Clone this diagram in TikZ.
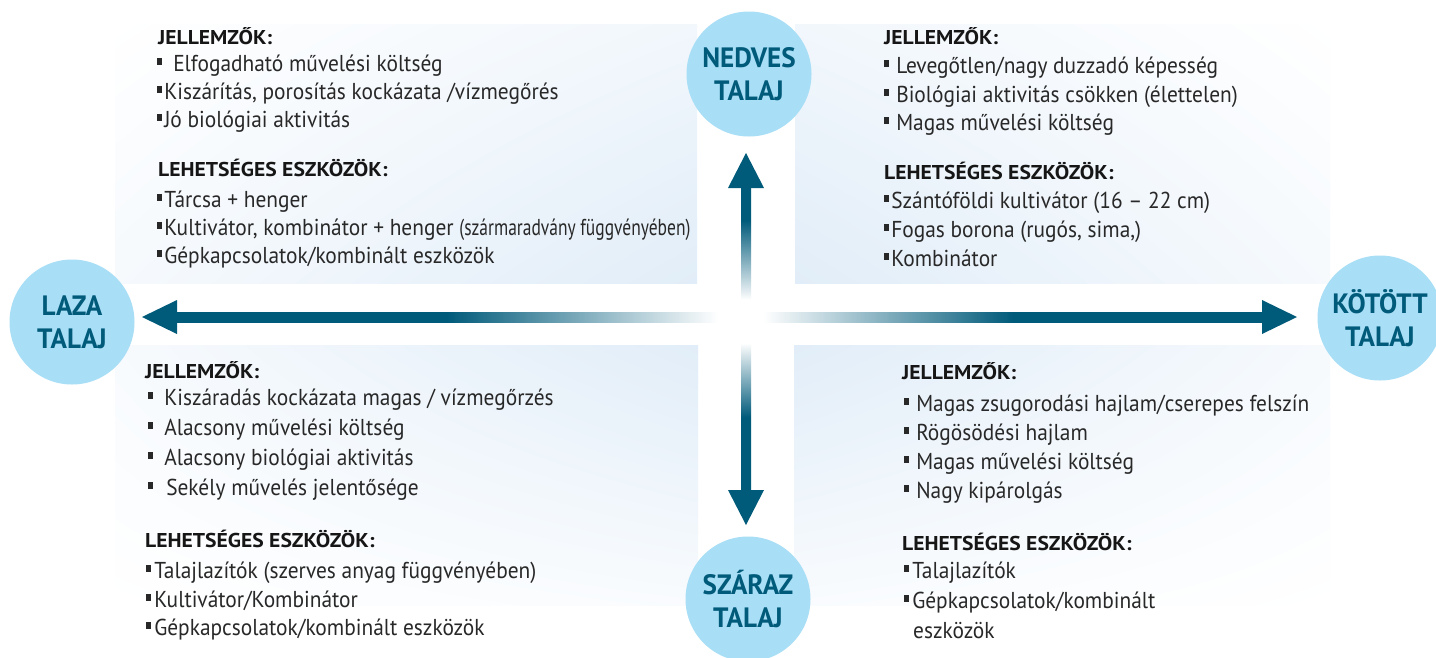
\documentclass[tikz,border=0pt]{standalone}
\usepackage{fontspec}
\usetikzlibrary{calc,shadings}
\setmainfont{PT Sans}[FakeStretch=0.93]
\newfontfamily\hdfont{PT Sans}[FakeStretch=1.08]
\newfontfamily\circfont{PT Sans}[FakeStretch=0.97]
\newfontfamily\condfont{PT Sans}[FakeStretch=0.76]
\definecolor{arrowc}{RGB}{0,90,122}
\definecolor{circc}{RGB}{168,222,246}
\definecolor{bgc}{RGB}{225,237,248}
\definecolor{txtc}{RGB}{40,40,40}
\definecolor{hdc}{RGB}{22,22,22}
\newcommand\bul{\rule[0.27em]{0.22em}{0.3em}}
\pgfdeclarehorizontalshading{shaftL}{100bp}{color(0bp)=(arrowc); color(25bp)=(arrowc); color(50bp)=(arrowc); color(75bp)=(white); color(100bp)=(white)}
\pgfdeclarehorizontalshading{shaftR}{100bp}{color(0bp)=(white); color(25bp)=(white); color(50bp)=(arrowc); color(75bp)=(arrowc); color(100bp)=(arrowc)}
\pgfdeclareverticalshading{shaftT}{100bp}{color(0bp)=(white); color(25bp)=(white); color(60bp)=(arrowc); color(75bp)=(arrowc); color(100bp)=(arrowc)}
\pgfdeclareverticalshading{shaftB}{100bp}{color(0bp)=(arrowc); color(25bp)=(arrowc); color(50bp)=(arrowc); color(75bp)=(white); color(100bp)=(white)}
\tikzset{
  txt/.style={inner sep=0pt, anchor=base west, text=txtc, font=\fontsize{23}{26}\selectfont},
  hdr/.style={inner sep=0pt, anchor=base west, text=hdc, font=\hdfont\bfseries\fontsize{20}{22}\selectfont},
  soil/.style={circle, fill=circc, minimum size=125pt, inner sep=0pt, align=center, text=arrowc, font=\circfont\bfseries\fontsize{28}{33}\selectfont},
  head/.style={fill=arrowc}
}
\begin{document}
\begin{tikzpicture}[x=1pt,y=-1pt]
\useasboundingbox (0,0) rectangle (1436,657);
\fill[white] (0,0) rectangle (1436,657);
% quadrant backgrounds
\shade[upper left=white, upper right=bgc!45, lower left=bgc!30, lower right=bgc] (115,24) rectangle (697,283);
\shade[upper left=bgc!45, upper right=white, lower left=bgc, lower right=bgc!30] (795,24) rectangle (1330,283);
\shade[upper left=bgc!25, upper right=bgc, lower left=white, lower right=bgc!20] (115,345) rectangle (698,605);
\shade[upper left=bgc, upper right=bgc!28, lower left=bgc!20, lower right=white] (794,345) rectangle (1330,605);
% coordinates
\coordinate (c) at (746,317);
\coordinate (tipN) at (746,153);
\coordinate (tipS) at (746,525);
\coordinate (tipW) at (142,317);
\coordinate (tipE) at (1297,317);
% shafts
\shade[shading=shaftT] (741,186) rectangle (751,300);
\shade[shading=shaftB] (741,343) rectangle (751,492);
\shade[shading=shaftL] (175,312) rectangle (718,322);
\shade[shading=shaftR] (763,312) rectangle (1264,322);
% arrowheads
\fill[head] (tipN) -- ($(tipN)+(-18,35)$) -- ($(tipN)+(18,35)$) -- cycle;
\fill[head] (tipS) -- ($(tipS)+(-18,-35)$) -- ($(tipS)+(18,-35)$) -- cycle;
\fill[head] (tipW) -- ($(tipW)+(35,-17)$) -- ($(tipW)+(35,17)$) -- cycle;
\fill[head] (tipE) -- ($(tipE)+(-35,-17)$) -- ($(tipE)+(-35,17)$) -- cycle;
% circles
\node[soil] (nedves) at (749,74) {NEDVES\\TALAJ};
\node[soil] (laza) at (72,322) {LAZA\\TALAJ};
\node[soil] (kotott) at (1380,318) {KÖTÖTT\\TALAJ};
\node[soil] (szaraz) at (748,599) {SZÁRAZ\\TALAJ};
% top-left
\node[hdr] (tlh1) at (158,44) {JELLEMZŐK:};
\node[txt] (tl1) at (157,71) {\bul\hspace{11pt}Elfogadható művelési költség};
\node[txt] (tl2) at (157,99) {\bul\hspace{2pt}Kiszárítás, porosítás kockázata /vízmegőrés};
\node[txt] (tl3) at (157,127) {\bul\hspace{2pt}Jó biológiai aktivitás};
\node[hdr] (tlh2) at (158,176) {LEHETSÉGES ESZKÖZÖK:};
\node[txt] (tl4) at (157,207) {\bul\hspace{2pt}Tárcsa + henger};
\node[txt] (tl5) at (157,235) {\bul\hspace{2pt}Kultivátor, kombinátor + henger {\condfont(szármaradvány függvényében)}};
\node[txt] (tl6) at (157,263) {\bul\hspace{2pt}Gépkapcsolatok/kombinált eszközök};
% top-right
\node[hdr] (trh1) at (884,44) {JELLEMZŐK:};
\node[txt] (tr1) at (884,73) {\bul\hspace{7pt}Levegőtlen/nagy duzzadó képesség};
\node[txt] (tr2) at (884,102) {\bul\hspace{7pt}Biológiai aktivitás csökken (élettelen)};
\node[txt] (tr3) at (884,130) {\bul\hspace{7pt}Magas művelési költség};
\node[hdr] (trh2) at (884,179) {LEHETSÉGES ESZKÖZÖK:};
\node[txt] (tr4) at (884,208) {\bul\hspace{2pt}Szántóföldi kultivátor (16 – 22 cm)};
\node[txt] (tr5) at (884,237) {\bul\hspace{2pt}Fogas borona (rugós, sima,)};
\node[txt] (tr6) at (884,266) {\bul\hspace{2pt}Kombinátor};
% bottom-left
\node[hdr] (blh1) at (145,378) {JELLEMZŐK:};
\node[txt] (bl1) at (148,405) {\bul\hspace{11pt}Kiszáradás kockázata magas / vízmegőrzés};
\node[txt] (bl2) at (148,435) {\bul\hspace{11pt}Alacsony művelési költség};
\node[txt] (bl3) at (148,465) {\bul\hspace{11pt}Alacsony biológiai aktivitás};
\node[txt] (bl4) at (148,495) {\bul\hspace{13pt}Sekély művelés jelentősége};
\node[hdr] (blh2) at (145,547) {LEHETSÉGES ESZKÖZÖK:};
\node[txt] (bl5) at (146,578) {\bul\hspace{3pt}Talajlazítók (szerves anyag függvényében)};
\node[txt] (bl6) at (146,607) {\bul\hspace{3pt}Kultivátor/Kombinátor};
\node[txt] (bl7) at (146,635) {\bul\hspace{3pt}Gépkapcsolatok/kombinált eszközök};
% bottom-right
\node[hdr] (brh1) at (902,379) {JELLEMZŐK:};
\node[txt] (br1) at (904,411) {\bul\hspace{7pt}Magas zsugorodási hajlam/cserepes felszín};
\node[txt] (br2) at (904,440) {\bul\hspace{7pt}Rögösödési hajlam};
\node[txt] (br3) at (904,469) {\bul\hspace{7pt}Magas művelési költség};
\node[txt] (br4) at (904,498) {\bul\hspace{7pt}Nagy kipárolgás};
\node[hdr] (brh2) at (902,550) {LEHETSÉGES ESZKÖZÖK:};
\node[txt] (br5) at (904,578) {\bul\hspace{3pt}Talajlazítók};
\node[txt] (br6) at (904,608) {\bul\hspace{3pt}Gépkapcsolatok/kombinált};
\node[txt] (br7) at (913,638) {eszközök};
\end{tikzpicture}
\end{document}
